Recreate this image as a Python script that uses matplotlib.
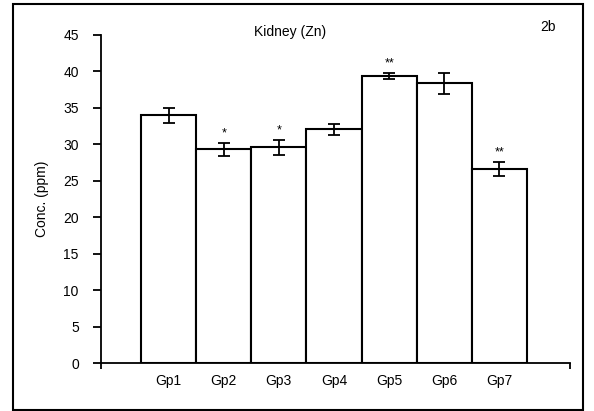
import numpy as np
import matplotlib.pyplot as plt
from matplotlib.patches import Rectangle

groups = ["Gp1", "Gp2", "Gp3", "Gp4", "Gp5", "Gp6", "Gp7"]
conc = [34.0, 29.3, 29.6, 32.05, 39.4, 38.35, 26.6]
err = [1.05, 0.9, 1.0, 0.75, 0.4, 1.4, 0.95]
stars = ["", "*", "*", "", "**", "", "**"]

plt.rcParams['font.family'] = ['Liberation Sans', 'DejaVu Sans']

fig = plt.figure(figsize=(5.94, 4.11), dpi=100)
ax = fig.add_axes([101/594, 1-363/411, 469/594, 328/411])

x = np.arange(len(groups))
ax.bar(x, conc, width=1.0, color='white', edgecolor='black', linewidth=1.5)
ax.errorbar(x, conc, yerr=err, fmt='none', ecolor='black', elinewidth=1.3,
            capsize=4.5, capthick=1.3)
for xi, yi, ei, s in zip(x, conc, err, stars):
    if s:
        ax.text(xi, yi + ei + 0.5, s, ha='center', va='bottom', fontsize=9)

ax.set_xlim(-1.226, 7.28)
ax.set_ylim(0, 45)
ax.set_yticks(range(0, 50, 5))
ax.set_xticks(x)
ax.set_xticklabels(groups, fontsize=10)
ax.tick_params(axis='x', length=0, pad=8)
ax.tick_params(axis='y', direction='out', length=6, width=1.3, labelsize=10, pad=10)
ax.set_xticks([-1.226, 7.28], minor=True)
ax.tick_params(axis='x', which='minor', direction='out', length=4, width=1.3)
for side in ['top', 'right']:
    ax.spines[side].set_visible(False)
for side in ['left', 'bottom']:
    ax.spines[side].set_linewidth(1.3)

ax.set_ylabel("Conc. (ppm)", fontsize=10, labelpad=10)
fig.text(290/594, 1-32/411, "Kidney (Zn)", ha='center', va='center', fontsize=10)
fig.text(548/594, 1-27/411, "2b", ha='center', va='center', fontsize=10)

fig.patches.append(Rectangle((13/594, 1-410/411), 570/594, 406/411,
                             transform=fig.transFigure, fill=False,
                             edgecolor='black', linewidth=1.5))

fig.savefig("out.png", dpi=100)
